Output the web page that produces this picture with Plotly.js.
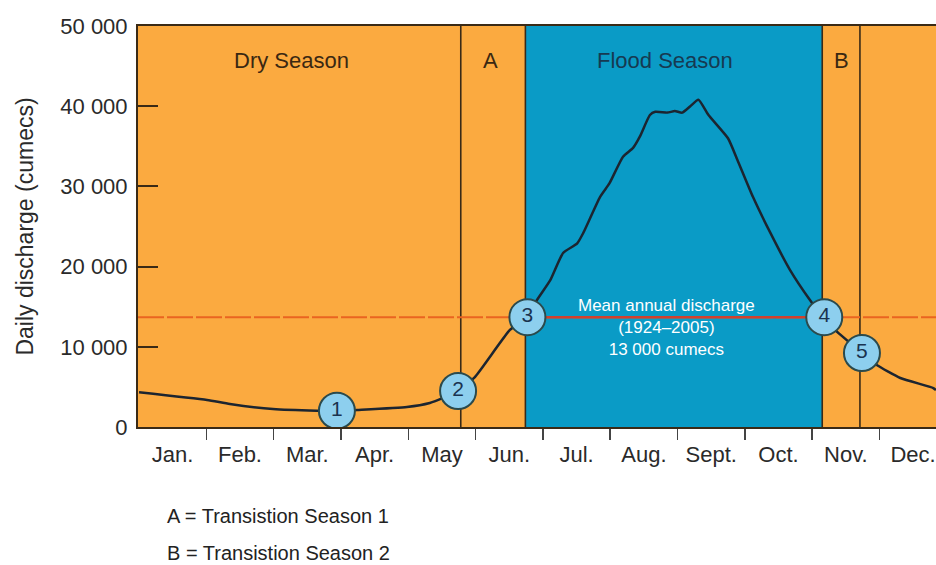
<!DOCTYPE html>
<html>
<head>
<meta charset="utf-8">
<script src="https://cdn.plot.ly/plotly-3.0.1.min.js"></script>
<style>html,body{margin:0;padding:0;background:#fff;}#chart{width:936px;height:565px;}</style>
</head>
<body>
<div id="chart"></div>
<script>
// ---- data (x = months since 1 Jan, y = cumecs) ----
const months = ['Jan.', 'Feb.', 'Mar.', 'Apr.', 'May', 'Jun.', 'Jul.', 'Aug.', 'Sept.', 'Oct.', 'Nov.', 'Dec.'];
const dischargeMonth = [0, 1.01, 1.35, 1.99, 2.64, 2.94, 3.24, 3.98, 4.32, 4.52, 4.74, 4.99, 5.51, 5.77, 5.91, 6.11, 6.30, 6.51, 6.60, 6.85, 6.99, 7.19, 7.34, 7.44, 7.59, 7.67, 7.85, 7.96, 8.07, 8.19, 8.31, 8.46, 8.75, 8.89, 9.12, 9.38, 9.67, 9.97, 10.16, 10.34, 10.74, 10.96, 11.31, 11.80, 11.84];
const dischargeCumecs = [4330, 3370, 2870, 2240, 2030, 2000, 2120, 2490, 2990, 3620, 4490, 6230, 12100, 13700, 15800, 18300, 21700, 22900, 24200, 28700, 30400, 33700, 34800, 36200, 38900, 39300, 39200, 39400, 39200, 40000, 40800, 38900, 36000, 33300, 28700, 24200, 19600, 15800, 13700, 12100, 9230, 7730, 6110, 4860, 4600];
const meanAnnualDischarge = 13700;
const transitionA = [4.78, 5.74];
const floodSeason = [5.74, 10.15];
const transitionB = [10.15, 10.71];
const pointLabels = ['1', '2', '3', '4', '5'];
const pointMonth = [2.94, 4.74, 5.77, 10.18, 10.74];
const pointCumecs = [2030, 4490, 13700, 13700, 9230];
const yTicks = [0, 10000, 20000, 30000, 40000, 50000];
const xRange = [-0.015, 11.84];

const ORANGE = '#FBAA40', BLUE = '#0A9BC6', DARK = '#3a2a16', FONT = 'Liberation Sans, Arial, sans-serif';

const traces = [
  { x: [xRange[0], xRange[1]], y: [meanAnnualDischarge, meanAnnualDischarge], mode: 'lines',
    line: { color: '#EA6420', width: 2, dash: '26px,3px' }, hoverinfo: 'skip' },
  { x: floodSeason, y: [meanAnnualDischarge, meanAnnualDischarge], mode: 'lines',
    line: { color: '#D2402C', width: 2.5 }, hoverinfo: 'skip' },
  { x: dischargeMonth, y: dischargeCumecs, mode: 'lines',
    line: { color: '#1c2530', width: 2.5, shape: 'spline', smoothing: 0.5 } },
  { x: pointMonth, y: pointCumecs, mode: 'markers+text', text: pointLabels, textposition: 'middle center',
    textfont: { family: FONT, size: 21, color: '#1a3350' },
    marker: { size: 36, color: '#8DCFEE', line: { color: '#2b4a4c', width: 2 } } }
];

const shapes = [
  { type: 'rect', xref: 'x', yref: 'paper', x0: floodSeason[0], x1: floodSeason[1], y0: 0, y1: 1,
    fillcolor: BLUE, line: { width: 0 }, layer: 'below' },
  ...[transitionA[0], transitionA[1], transitionB[0], transitionB[1]].map(v => ({
    type: 'line', xref: 'x', yref: 'paper', x0: v, x1: v, y0: 0, y1: 1,
    line: { color: DARK, width: 1.6 }, layer: 'below' }))
];

const seasonFont = { family: FONT, size: 22, color: '#3a2812' };
const annotations = [
  { text: 'Dry Season', x: 2.27, y: 0.915, xref: 'x', yref: 'paper', yanchor: 'middle', showarrow: false, font: seasonFont },
  { text: 'A', x: (transitionA[0] + transitionA[1]) / 2 - 0.04, y: 0.915, xref: 'x', yref: 'paper', yanchor: 'middle', showarrow: false, font: seasonFont },
  { text: 'Flood Season', x: 7.82, y: 0.915, xref: 'x', yref: 'paper', yanchor: 'middle', showarrow: false, font: { family: FONT, size: 22, color: '#163a52' } },
  { text: 'B', x: (transitionB[0] + transitionB[1]) / 2, y: 0.915, xref: 'x', yref: 'paper', yanchor: 'middle', showarrow: false, font: seasonFont },
  { text: 'Mean annual discharge<br>(1924–2005)<br>13 000 cumecs', x: 7.83, y: 0.249, xref: 'x', yref: 'paper', yanchor: 'middle',
    showarrow: false, align: 'center', font: { family: FONT, size: 17, color: '#ffffff' } },
  { text: 'A = Transistion Season 1', x: 0.034, y: -0.222, xref: 'paper', yref: 'paper', xanchor: 'left', yanchor: 'middle', showarrow: false, font: { family: FONT, size: 20, color: '#222' } },
  { text: 'B = Transistion Season 2', x: 0.034, y: -0.314, xref: 'paper', yref: 'paper', xanchor: 'left', yanchor: 'middle', showarrow: false, font: { family: FONT, size: 20, color: '#222' } }
];

const layout = {
  width: 936, height: 565,
  margin: { l: 138, r: 0, t: 26, b: 138 },
  paper_bgcolor: '#ffffff', plot_bgcolor: ORANGE,
  showlegend: false,
  separators: '. ',
  font: { family: FONT, size: 20, color: '#2a2a2a' },
  xaxis: {
    range: xRange, showgrid: false, zeroline: false,
    showline: true, linecolor: DARK, linewidth: 2, mirror: true,
    tickmode: 'array', tickvals: months.map((_, i) => i + 0.5), ticktext: months,
    ticks: 'outside', ticklen: 7, tickcolor: 'rgba(0,0,0,0)',
    ticklabeloverflow: 'allow',
    tickfont: { family: FONT, size: 22, color: '#2a2a2a' },
    minor: { tickmode: 'array', tickvals: months.slice(1).map((_, i) => i + 1), ticks: 'outside', ticklen: 11, tickwidth: 1.5, tickcolor: '#444' }
  },
  yaxis: {
    range: [0, 50000], showgrid: false, zeroline: false,
    showline: true, linecolor: DARK, linewidth: 2,
    tickmode: 'array', tickvals: yTicks, tickformat: ',d',
    ticks: 'inside', ticklen: 20, tickwidth: 2, tickcolor: DARK,
    ticklabelstandoff: 4,
    tickfont: { family: FONT, size: 22, color: '#2a2a2a' },
    title: { text: 'Daily discharge (cumecs)', standoff: 20, font: { family: FONT, size: 23, color: '#2a2a2a' } }
  },
  shapes, annotations
};

Plotly.newPlot('chart', traces, layout, { displayModeBar: false, staticPlot: true });
</script>
</body>
</html>
